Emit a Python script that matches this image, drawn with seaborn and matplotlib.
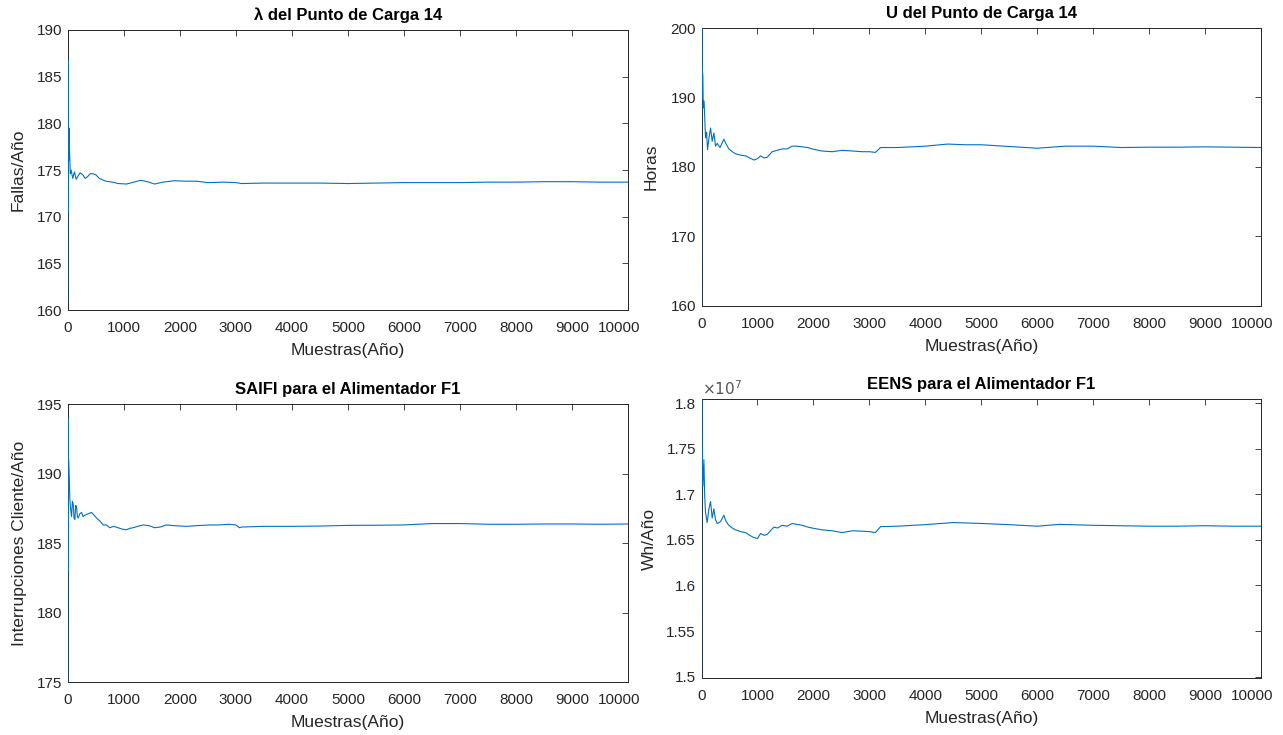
import matplotlib
matplotlib.use("Agg")
import matplotlib.pyplot as plt
import matplotlib.ticker as mticker
import matplotlib.transforms as mtransforms
import seaborn as sns
import pandas as pd

# ---------------- data ----------------
lam_x = [1, 3, 6, 10, 15, 22, 30, 45, 60, 89, 119, 150, 178, 220, 267, 310, 356, 400, 445,
         500, 564, 620, 683, 740, 801, 900, 1050, 1180, 1300, 1420, 1550, 1700, 1900, 2100,
         2300, 2500, 2800, 3000, 3100, 3500, 4000, 4500, 5000, 5500, 6000, 6500, 7000, 7500,
         8000, 8500, 9000, 9500, 10000]
lam_y = [161.0, 186.8, 170.5, 182.0, 176.0, 179.5, 177.6, 174.6, 175.0, 174.1, 174.8, 174.0,
         174.3, 174.7, 174.5, 174.1, 174.3, 174.6, 174.6, 174.5, 174.1, 173.95, 173.8, 173.75,
         173.7, 173.55, 173.5, 173.7, 173.9, 173.75, 173.5, 173.7, 173.85, 173.8, 173.8,
         173.65, 173.7, 173.65, 173.55, 173.6, 173.6, 173.6, 173.55, 173.6, 173.65, 173.65,
         173.65, 173.7, 173.7, 173.75, 173.75, 173.7, 173.7]

u_x = [1, 3, 8, 15, 24, 30, 45, 71, 90, 107, 130, 161, 190, 220, 250, 280, 330, 399, 440,
       488, 550, 607, 700, 786, 860, 935, 1000, 1054, 1120, 1173, 1262, 1350, 1440, 1530,
       1619, 1700, 1798, 1900, 1976, 2150, 2333, 2512, 2700, 2869, 3000, 3107, 3200, 3500,
       4000, 4400, 4700, 5000, 5500, 6000, 6500, 7000, 7500, 8000, 8500, 9000, 9500, 10000]
u_y = [161.0, 201.0, 190.0, 194.0, 193.0, 188.5, 189.5, 184.2, 185.0, 182.5, 184.0, 185.6,
       183.7, 184.9, 183.0, 183.4, 182.8, 184.0, 183.3, 182.6, 182.2, 181.9, 181.7, 181.6,
       181.3, 181.0, 181.2, 181.6, 181.3, 181.4, 182.2, 182.4, 182.6, 182.6, 183.0, 183.0,
       182.9, 182.8, 182.6, 182.3, 182.2, 182.4, 182.3, 182.2, 182.2, 182.1, 182.8, 182.8,
       183.0, 183.3, 183.2, 183.2, 182.95, 182.7, 183.0, 183.0, 182.8, 182.85, 182.85,
       182.9, 182.85, 182.8]

saifi_x = [1, 3, 8, 15, 27, 38, 50, 68, 83, 98, 112, 127, 142, 157, 172, 187, 215, 246, 275,
           306, 360, 425, 470, 514, 570, 632, 690, 751, 820, 899, 970, 1047, 1100, 1166, 1250,
           1344, 1450, 1551, 1650, 1759, 1900, 2115, 2300, 2530, 2700, 2886, 3000, 3064, 3100,
           3500, 4000, 4500, 5000, 5500, 6000, 6500, 7000, 7500, 8000, 8500, 9000, 9500, 10000]
saifi_y = [175.0, 194.0, 183.0, 191.0, 189.65, 188.1, 187.5, 186.9, 188.0, 187.8, 186.8,
           186.7, 187.7, 187.6, 186.9, 186.8, 187.1, 187.2, 186.9, 187.0, 187.1, 187.2, 187.0,
           186.8, 186.6, 186.3, 186.3, 186.1, 186.2, 186.1, 186.0, 185.95, 186.05, 186.1,
           186.2, 186.3, 186.25, 186.1, 186.15, 186.3, 186.25, 186.2, 186.25, 186.3, 186.3,
           186.35, 186.3, 186.1, 186.15, 186.2, 186.2, 186.22, 186.27, 186.28, 186.3, 186.4,
           186.4, 186.35, 186.35, 186.37, 186.37, 186.35, 186.37]

eens_x = [1, 3, 6, 12, 24, 42, 55, 71, 101, 131, 161, 190, 220, 250, 280, 340, 399, 440, 488,
          550, 607, 700, 786, 860, 935, 1000, 1054, 1120, 1173, 1292, 1360, 1440, 1530, 1619,
          1700, 1798, 1900, 1976, 2150, 2333, 2512, 2700, 2869, 3000, 3107, 3200, 3500, 4000,
          4500, 5000, 5500, 6000, 6400, 7000, 7500, 8000, 8500, 9000, 9500, 10000]
eens_y = [1.499e7, 1.804e7, 1.720e7, 1.750e7, 1.709e7, 1.738e7, 1.700e7, 1.680e7, 1.669e7,
          1.684e7, 1.692e7, 1.674e7, 1.684e7, 1.672e7, 1.668e7, 1.670e7, 1.677e7, 1.670e7,
          1.666e7, 1.663e7, 1.661e7, 1.659e7, 1.658e7, 1.655e7, 1.6525e7, 1.6515e7, 1.657e7,
          1.655e7, 1.656e7, 1.664e7, 1.663e7, 1.666e7, 1.665e7, 1.668e7, 1.667e7, 1.666e7,
          1.664e7, 1.663e7, 1.661e7, 1.660e7, 1.658e7, 1.660e7, 1.6595e7, 1.659e7, 1.658e7,
          1.6645e7, 1.665e7, 1.6667e7, 1.669e7, 1.668e7, 1.6667e7, 1.665e7, 1.667e7, 1.666e7,
          1.6655e7, 1.665e7, 1.665e7, 1.6655e7, 1.665e7, 1.665e7]

titles = ["\u03bb del Punto de Carga 14", "U del Punto de Carga 14",
          "SAIFI para el Alimentador F1", "EENS para el Alimentador F1"]
ylabels = ["Fallas/A\u00f1o", "Horas", "Interrupciones Cliente/A\u00f1o", "Wh/A\u00f1o"]
xlabel = "Muestras(A\u00f1o)"
x_ticks = [0, 1000, 2000, 3000, 4000, 5000, 6000, 7000, 8000, 9000, 10000]
y_ticks = [[160, 165, 170, 175, 180, 185, 190],
           [160, 170, 180, 190, 200],
           [175, 180, 185, 190, 195],
           [1.5e7, 1.55e7, 1.6e7, 1.65e7, 1.7e7, 1.75e7, 1.8e7]]
y_lims = [(160, 190), (160, 200), (175, 195), (1.4985e7, 1.8045e7)]

# ---------------- style ----------------
sns.set_theme(style="white")
plt.rcParams["font.family"] = ["Liberation Sans", "DejaVu Sans"]
TXT = "#262626"
LINE = "#0072BD"

fig = plt.figure(figsize=(12.83, 7.35), dpi=100)
rects = [
    (0.0528, 0.5782, 0.4367, 0.3810),
    (0.5468, 0.5837, 0.4361, 0.3782),
    (0.0528, 0.0721, 0.4367, 0.3782),
    (0.5468, 0.0776, 0.4361, 0.3795),
]
series = [(lam_x, lam_y), (u_x, u_y), (saifi_x, saifi_y), (eens_x, eens_y)]
label_x = [-0.075, -0.076, -0.073, -0.079]

for i, (rect, (xs, ys)) in enumerate(zip(rects, series)):
    ax = fig.add_axes(rect)
    df = pd.DataFrame({"x": xs, "y": ys})
    sns.lineplot(data=df, x="x", y="y", ax=ax, color=LINE, linewidth=0.8,
                 estimator=None, sort=False, zorder=3)
    ax.set_xlim(0, 10000)
    ax.set_ylim(*y_lims[i])
    ax.set_xticks(x_ticks)
    ax.set_yticks(y_ticks[i])
    ax.xaxis.set_major_formatter(mticker.FuncFormatter(lambda v, p: f"{int(v)}"))
    if i == 3:
        ax.yaxis.set_major_formatter(mticker.FuncFormatter(lambda v, p: f"{v / 1e7:g}"))
        ax.text(0.0, 1.005, r"$\times10^{7}$", transform=ax.transAxes, ha="left",
                va="bottom", fontsize=11, color="#555555")
    ax.tick_params(direction="in", top=True, right=True, length=4, width=0.6,
                   colors=TXT, labelsize=11)
    ax.tick_params(axis="x", pad=8)
    ax.tick_params(axis="y", pad=4)
    for sp in ax.spines.values():
        sp.set_color(TXT)
        sp.set_linewidth(0.7)
        sp.set_visible(True)
    ax.set_title(titles[i], fontsize=12, fontweight="bold", color="black", pad=7)
    ax.set_xlabel(xlabel, fontsize=12.5, color=TXT, labelpad=6)
    ax.set_ylabel(ylabels[i], fontsize=12.5, color=TXT)
    ax.yaxis.set_label_coords(label_x[i], 0.5)
    ax.set_facecolor("white")
    # last x tick label is pushed slightly left, as in the reference
    fig.canvas.draw()
    last = ax.get_xticklabels()[-1]
    last.set_transform(last.get_transform() +
                       mtransforms.ScaledTranslation(-9 / 100, 0, fig.dpi_scale_trans))

fig.savefig("out.png", dpi=100, facecolor="white")
